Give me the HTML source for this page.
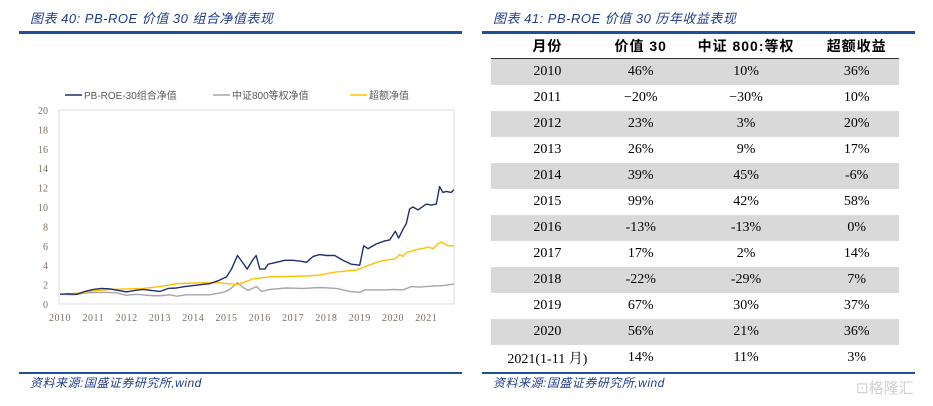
<!DOCTYPE html>
<html><head><meta charset="utf-8">
<style>
body{margin:0;width:933px;height:406px;background:#fff;position:relative;overflow:hidden;font-family:"Liberation Serif","Noto Serif CJK SC",serif}
.title{position:absolute;top:8px;font-style:italic;color:#1f3d8c;font-size:13px;letter-spacing:0.5px;font-family:"Liberation Sans","Noto Sans CJK SC",sans-serif}
.rule{position:absolute;height:3px;background:#1f4e9c}
.src{position:absolute;top:374px;font-style:italic;color:#1f3d8c;font-size:12px;letter-spacing:0.5px;font-family:"Liberation Sans","Noto Sans CJK SC",sans-serif}
table{position:absolute;left:491px;top:33px;width:408px;border-collapse:collapse;font-size:14px}
td,th{height:26px;padding:0;text-align:center}
th{font-family:"Liberation Sans","Noto Sans CJK SC",sans-serif;font-weight:bold;font-size:14px;letter-spacing:1px;border-bottom:1px solid #333;height:25px}
tr.g td{background:#d9d9d9}
</style></head><body>
<div class="title" style="left:30px">图表 40:  PB-ROE 价值 30 组合净值表现</div>
<div class="rule" style="left:19px;top:31px;width:443px"></div>
<div class="title" style="left:493px">图表 41:  PB-ROE 价值 30 历年收益表现</div>
<div class="rule" style="left:482px;top:31px;width:433px"></div>
<svg id="chart" width="470" height="340" style="position:absolute;left:0;top:0"></svg>
<table>
<tr><th>月份</th><th>价值 30</th><th>中证 800:等权</th><th>超额收益</th></tr>
<tr class="g"><td>2010</td><td>46%</td><td>10%</td><td>36%</td></tr>
<tr><td>2011</td><td>−20%</td><td>−30%</td><td>10%</td></tr>
<tr class="g"><td>2012</td><td>23%</td><td>3%</td><td>20%</td></tr>
<tr><td>2013</td><td>26%</td><td>9%</td><td>17%</td></tr>
<tr class="g"><td>2014</td><td>39%</td><td>45%</td><td>-6%</td></tr>
<tr><td>2015</td><td>99%</td><td>42%</td><td>58%</td></tr>
<tr class="g"><td>2016</td><td>-13%</td><td>-13%</td><td>0%</td></tr>
<tr><td>2017</td><td>17%</td><td>2%</td><td>14%</td></tr>
<tr class="g"><td>2018</td><td>-22%</td><td>-29%</td><td>7%</td></tr>
<tr><td>2019</td><td>67%</td><td>30%</td><td>37%</td></tr>
<tr class="g"><td>2020</td><td>56%</td><td>21%</td><td>36%</td></tr>
<tr><td>2021(1-11 月)</td><td>14%</td><td>11%</td><td>3%</td></tr>
</table>
<div class="rule" style="left:19px;top:372px;width:443px;height:2px"></div>
<div class="rule" style="left:482px;top:372px;width:433px;height:2px"></div>
<div class="src" style="left:30px">资料来源:国盛证券研究所,wind</div>
<div class="src" style="left:493px">资料来源:国盛证券研究所,wind</div>
<div style="position:absolute;left:856px;top:377px;color:#d0d0d0;font-size:15px;font-family:'Noto Sans CJK SC',sans-serif">⊡格隆汇</div>
<script>
const yTicks=[0,2,4,6,8,10,12,14,16,18,20];
const years=[2010,2011,2012,2013,2014,2015,2016,2017,2018,2019,2020,2021];
const pbT=[2010,2010.25,2010.5,2010.75,2011,2011.25,2011.5,2011.75,2012,2012.25,2012.5,2012.75,2013,2013.25,2013.5,2013.75,2014,2014.25,2014.5,2014.75,2015,2015.15,2015.33,2015.5,2015.62,2015.78,2015.89,2016.0,2016.15,2016.25,2016.5,2016.75,2017,2017.25,2017.4,2017.6,2017.8,2018,2018.25,2018.5,2018.75,2019.0,2019.12,2019.25,2019.5,2019.75,2019.9,2020.07,2020.17,2020.3,2020.4,2020.5,2020.6,2020.75,2021.0,2021.15,2021.3,2021.4,2021.5,2021.6,2021.75,2021.83];
const pbV=[1.0,1.05,1.0,1.3,1.5,1.6,1.55,1.4,1.25,1.4,1.5,1.4,1.3,1.6,1.65,1.8,1.9,2.0,2.1,2.4,2.8,3.6,5.0,4.2,3.6,4.5,5.0,3.6,3.6,4.1,4.3,4.5,4.5,4.4,4.3,4.9,5.1,5.0,5.0,4.5,4.1,4.0,6.0,5.7,6.2,6.5,6.6,7.5,6.8,7.7,8.3,9.8,10.0,9.7,10.3,10.2,10.3,12.1,11.5,11.6,11.5,11.8];
const grT=[2010,2010.4,2010.8,2011.3,2011.7,2012.0,2012.3,2012.8,2013.0,2013.3,2013.5,2013.8,2014.5,2014.9,2015.1,2015.33,2015.5,2015.65,2015.9,2016.05,2016.3,2016.8,2017.3,2017.8,2018.3,2018.7,2019.0,2019.15,2019.8,2020.0,2020.3,2020.55,2020.8,2021.2,2021.5,2021.83];
const grV=[1.0,0.95,1.15,1.2,1.15,0.9,1.0,0.85,0.85,0.95,0.8,0.95,0.95,1.2,1.5,2.2,1.7,1.4,1.8,1.3,1.5,1.65,1.6,1.7,1.6,1.3,1.2,1.45,1.45,1.5,1.45,1.8,1.75,1.85,1.9,2.05];
const exT=[2010,2010.5,2011,2011.5,2012,2012.5,2013,2013.5,2014.3,2014.75,2015.3,2015.5,2015.8,2016.3,2017,2017.5,2017.8,2018.3,2018.9,2019.2,2019.6,2019.9,2020.05,2020.2,2020.3,2020.4,2020.7,2021.0,2021.05,2021.2,2021.35,2021.45,2021.65,2021.83];
const exV=[1.0,1.1,1.35,1.5,1.55,1.6,1.8,2.1,2.2,2.2,2.0,2.2,2.6,2.8,2.85,2.9,3.0,3.3,3.5,3.9,4.4,4.6,4.6,5.1,4.9,5.3,5.6,5.8,5.9,5.7,6.2,6.4,6.0,6.0];
const NS="http://www.w3.org/2000/svg",svg=document.getElementById('chart');
const X0=60,PX=33.3,Y0=304,PY=9.7;
const xs=t=>X0+(t-2010)*PX, ys=v=>Y0-v*PY;
function mk(tag,attrs){const e=document.createElementNS(NS,tag);for(const k in attrs)e.setAttribute(k,attrs[k]);svg.appendChild(e);return e;}
const box=mk('rect',{x:59,y:110,width:395,height:194,fill:'none',stroke:'#dcdcdc'});


yTicks.forEach(v=>{const t=mk('text',{x:48,y:ys(v)+4,'text-anchor':'end','font-size':'10','fill':'#7a6e62','font-family':'Liberation Serif, serif'});t.textContent=v;

});
years.forEach(y=>{const t=mk('text',{x:xs(y),y:321,'text-anchor':'middle','font-size':'10','fill':'#7a6e62','font-family':'Liberation Serif, serif','letter-spacing':'0.5'});t.textContent=y;

});
function line(T,V,c,name){const p=mk('polyline',{points:T.map((t,i)=>xs(t)+','+ys(V[i])).join(' '),fill:'none',stroke:c,'stroke-width':1.4,'stroke-linejoin':'round'});

}
line(grT,grV,'#a6a6a6','csi800-line');
line(exT,exV,'#ffc000','excess-line');
line(pbT,pbV,'#1f2f6f','pbroe-line');
const leg=[['PB-ROE-30组合净值','#1f2f6f',65],['中证800等权净值','#a6a6a6',213],['超额净值','#ffc000',350]];
leg.forEach(l=>{const ln=mk('line',{x1:l[2],x2:l[2]+17,y1:95,y2:95,stroke:l[1],'stroke-width':1.4});


const t=mk('text',{x:l[2]+19,y:99,'font-size':'10','fill':'#595959','font-family':'Liberation Sans, Noto Sans CJK SC, sans-serif'});t.textContent=l[0];

});
</script>
</body></html>
